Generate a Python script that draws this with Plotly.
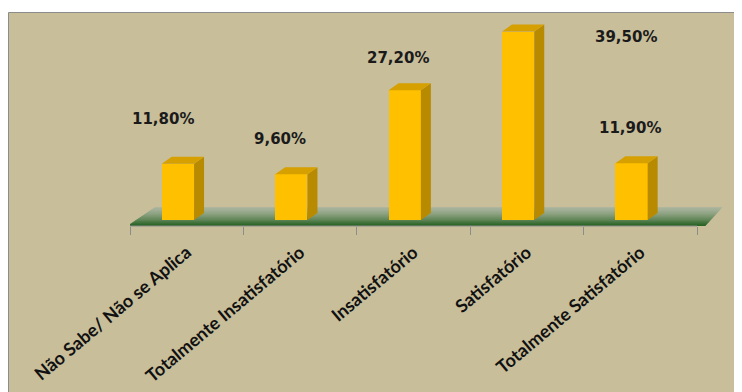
import plotly.graph_objects as go

# ---- data ----
categories = ["Não Sabe/ Não se Aplica", "Totalmente Insatisfatório", "Insatisfatório",
              "Satisfatório", "Totalmente Satisfatório"]
values = [11.8, 9.6, 27.2, 39.5, 11.9]
value_labels = ["11,80%", "9,60%", "27,20%", "39,50%", "11,90%"]

# ---- label placement (layout only) ----
label_dx = [-0.21, -0.18, -0.14, 0.87, -0.09]
label_dy = [9.4, 7.4, 6.8, -1.1, 7.4]

# ---- geometry / style constants ----
bar_off = -0.22
bar_w = 0.285
dx = 0.088      # 3D depth, x units
dy = 1.47       # 3D depth, y units
front_col = "#FFC000"
side_col = "#B88A00"
top_col = "#D6A000"
bg_col = "#C8BE9A"

xs = list(range(len(categories)))

fig = go.Figure()

# side and top faces of the 3D bars, derived from the values
sx, sy, tx, ty = [], [], [], []
for i, v in zip(xs, values):
    xl = i + bar_off
    xr = xl + bar_w
    sx += [xr, xr, xr + dx, xr + dx, xr, None]
    sy += [0, v, v + dy, dy, 0, None]
    tx += [xl, xr, xr + dx, xl + dx, xl, None]
    ty += [v, v, v + dy, v + dy, v, None]

fig.add_trace(go.Bar(x=xs, y=values, width=bar_w, offset=bar_off,
                     marker=dict(color=front_col, line=dict(width=0)),
                     hoverinfo="skip", showlegend=False))
fig.add_trace(go.Scatter(x=sx, y=sy, mode="lines", fill="toself", fillcolor=side_col,
                         line=dict(width=0, color=side_col), hoverinfo="skip", showlegend=False))
fig.add_trace(go.Scatter(x=tx, y=ty, mode="lines", fill="toself", fillcolor=top_col,
                         line=dict(width=0, color=top_col), hoverinfo="skip", showlegend=False))

# ---- plot area geometry (figure pixels; the page adds an 8px body margin) ----
OFF = 8
L, W, T, H = 122, 594, 12, 206
def px_x(p):          # page pixel -> paper x
    return (p - OFF - L) / W
def px_y(p):          # page pixel -> paper y
    return (T + H - (p - OFF)) / H

shapes = []
# chart background box with border
shapes.append(dict(type="rect", xref="paper", yref="paper",
                   x0=px_x(8.5), x1=px_x(780), y0=px_y(420), y1=px_y(12.5),
                   fillcolor=bg_col, line=dict(color="#8C8C8C", width=1), layer="below"))

# green floor (gradient via strips)
yf, yb = -1.258, 2.62
xfl, xfr = -0.52, 4.57    # front edge
xbl, xbr = -0.28, 4.72    # back edge
c_back = (168, 180, 158)
c_front = (38, 98, 32)
n = 18
for k in range(n):
    t0, t1 = k / n, (k + 1) / n
    y0 = yb + (yf - yb) * t0
    y1 = yb + (yf - yb) * t1
    l0 = xbl + (xfl - xbl) * t0
    l1 = xbl + (xfl - xbl) * t1
    r0 = xbr + (xfr - xbr) * t0
    r1 = xbr + (xfr - xbr) * t1
    tm = ((t0 + t1) / 2) ** 1.4
    c = tuple(int(round(c_back[j] + (c_front[j] - c_back[j]) * tm)) for j in range(3))
    path = f"M {l0},{y0} L {r0},{y0} L {r1},{y1} L {l1},{y1} Z"
    shapes.append(dict(type="path", xref="x", yref="y", path=path,
                       fillcolor=f"rgb{c}", line=dict(width=0.5, color=f"rgb{c}"),
                       layer="below"))

# axis line
shapes.append(dict(type="line", xref="x", yref="paper", x0=-0.5, x1=len(categories) - 0.5,
                   y0=0, y1=0, line=dict(color="#8C8C8C", width=1)))

annotations = []
for i, v in enumerate(values):
    annotations.append(dict(x=i + label_dx[i], y=v + label_dy[i], xref="x", yref="y",
                            text=value_labels[i], showarrow=False,
                            font=dict(family="DejaVu Sans", size=15, color="#1A1A1A",
                                      weight="bold")))

fig.update_layout(
    width=742, height=392,
    margin=dict(l=L, r=742 - L - W, t=T, b=392 - T - H, pad=0),
    paper_bgcolor="white", plot_bgcolor="rgba(0,0,0,0)",
    shapes=shapes, annotations=annotations,
    bargap=0, showlegend=False,
    xaxis=dict(range=[-0.5, 4.5 + 27 / 113.4], tickmode="array", tickvals=xs,
               ticktext=categories, tickangle=-40, ticks="outside", ticklen=8,
               tickcolor="rgba(0,0,0,0)", showline=False, showgrid=False, zeroline=False,
               tickfont=dict(family="Lato", size=18, color="#111111", weight="bold"),
               minor=dict(tickmode="array",
                          tickvals=[k - 0.5 for k in range(len(categories) + 1)],
                          ticks="outside", ticklen=8, tickcolor="#8C8C8C", tickwidth=1,
                          showgrid=False),
               fixedrange=True),
    yaxis=dict(range=[-1.258, 41.93], showgrid=False, zeroline=False, showticklabels=False,
               ticks="", showline=False, fixedrange=True),
)

fig.write_html("out.html")
